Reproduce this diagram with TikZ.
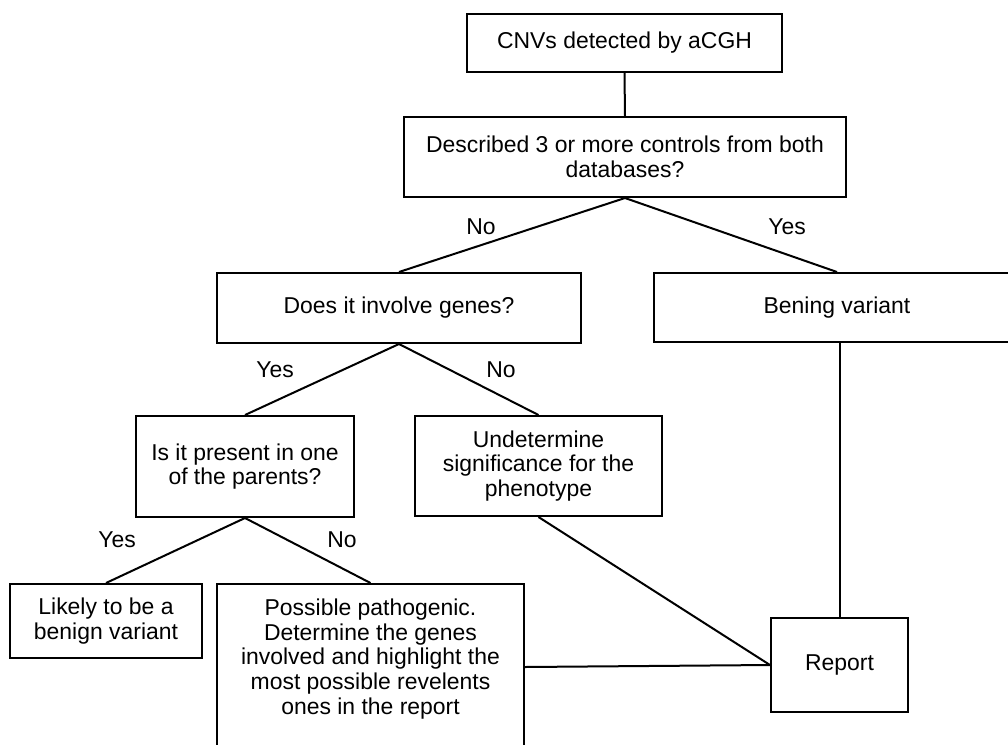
\documentclass[tikz,border=0pt]{standalone}
\usepackage{fontspec}
\setmainfont{Liberation Sans}
\begin{document}
\begin{tikzpicture}[x=0.75pt,y=-0.75pt,
  box/.style={draw=black,line width=1.5pt,rectangle,inner sep=0pt,align=center,
    font=\fontsize{17.2pt}{18.6pt}\selectfont},
  lbl/.style={inner sep=0pt,font=\fontsize{17.2pt}{18.6pt}\selectfont},
  conn/.style={draw=black,line width=1.5pt}]
\useasboundingbox[fill=white] (0,0) rectangle (1008,744);
\node[box,minimum width=315*0.75pt,minimum height=58*0.75pt] (cnv) at (624.5,43) {CNVs detected by aCGH};
\node[box,minimum width=442*0.75pt,minimum height=80*0.75pt] (desc) at (625,157) {Described 3 or more controls from both\\databases?};
\node[box,minimum width=364*0.75pt,minimum height=70*0.75pt] (genes) at (399,308) {Does it involve genes?};
\node[box,minimum width=366*0.75pt,minimum height=69*0.75pt] (bening) at (837,307.5) {Bening variant};
\node[box,minimum width=218*0.75pt,minimum height=101*0.75pt] (parents) at (245,466.5) {Is it present in one\\of the parents?};
\node[box,minimum width=247*0.75pt,minimum height=100*0.75pt] (undet) at (538.5,466) {Undetermine\\significance for the\\phenotype};
\node[box,minimum width=192*0.75pt,minimum height=74*0.75pt] (likely) at (106,621) {Likely to be a\\benign variant};
\node[box,minimum width=307*0.75pt,minimum height=166*0.75pt] (possible) at (370.5,667) {};
\node[lbl,align=center] (possibletext) at (370.5,659) {Possible pathogenic.\\Determine the genes\\involved and highlight the\\most possible revelents\\ones in the report};
\node[box,minimum width=137*0.75pt,minimum height=94*0.75pt] (report) at (839.5,665) {Report};
\draw[conn] (cnv.south) -- (desc.north);
\draw[conn] (desc.south) -- (genes.north);
\draw[conn] (desc.south) -- (bening.north);
\draw[conn] (genes.south) -- (parents.north);
\draw[conn] (genes.south) -- (undet.north);
\draw[conn] (parents.south) -- (likely.north);
\draw[conn] (parents.south) -- (possible.north);
\draw[conn] (undet.south) -- (report.west);
\draw[conn] (possible.east) -- (report.west);
\draw[conn] (report.north |- bening.south) -- (report.north);
\node[lbl] (l1) at (481,227) {No};
\node[lbl] (l2) at (787,227) {Yes};
\node[lbl] (l3) at (275,370) {Yes};
\node[lbl] (l4) at (501,370) {No};
\node[lbl] (l5) at (117,540) {Yes};
\node[lbl] (l6) at (342,540) {No};
\end{tikzpicture}
\end{document}
